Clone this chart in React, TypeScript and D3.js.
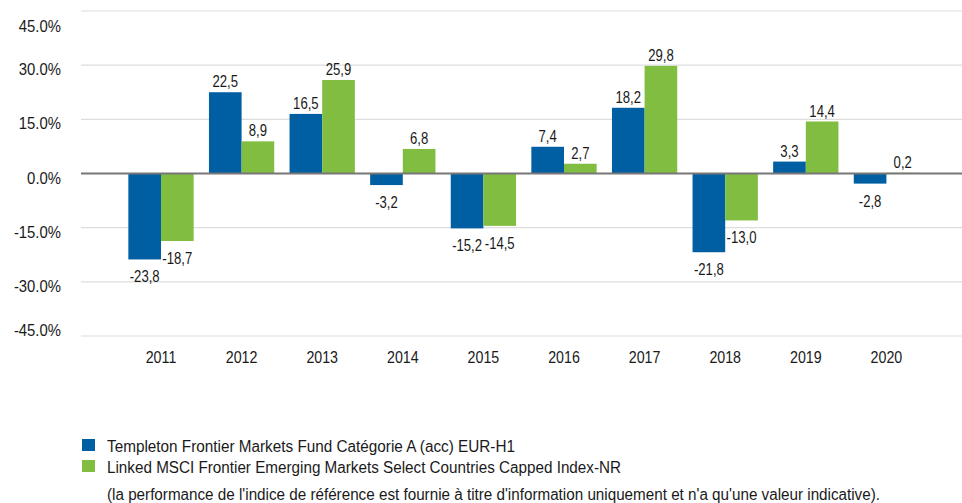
import React from "react";
import * as d3 from "d3";

const years = ["2011", "2012", "2013", "2014", "2015", "2016", "2017", "2018", "2019", "2020"];
const fundValues = [-23.8, 22.5, 16.5, -3.2, -15.2, 7.4, 18.2, -21.8, 3.3, -2.8];
const indexValues = [-18.7, 8.9, 25.9, 6.8, -14.5, 2.7, 29.8, -13.0, 14.4, 0.2];
const yTicks = [45, 30, 15, 0, -15, -30, -45];
const seriesNames = [
  "Templeton Frontier Markets Fund Catégorie A (acc) EUR-H1",
  "Linked MSCI Frontier Emerging Markets Select Countries Capped Index-NR",
];
const footnote =
  "(la performance de l'indice de référence est fournie à titre d'information uniquement et n'a qu'une valeur indicative).";

const W = 962;
const H = 503;
const BLUE = "#005ea2";
const GREEN = "#80bd41";
const FONT = "'Liberation Sans', Arial, sans-serif";
const TXT = "#1a1a1a";

function T(props: { x: number; y: number; sx: number; anchor?: string; size?: number; children: React.ReactNode }) {
  const { x, y, sx, anchor = "start", size = 16, children } = props;
  return (
    <g transform={`translate(${x},${y}) scale(${sx},1)`}>
      <text x={0} y={0} textAnchor={anchor as any} fontSize={size} fill={TXT}>
        {children}
      </text>
    </g>
  );
}

export default function App() {
  const y = d3.scaleLinear().domain([-45, 45]).range([336, 11]);
  const x0 = d3.scaleBand().domain(years).range([120.7, 926.7]).paddingInner(0.19).paddingOuter(0.095);
  const x1 = d3.scaleBand().domain(["fund", "index"]).range([0, x0.bandwidth()]);
  const series = [
    { key: "fund", values: fundValues, color: BLUE },
    { key: "index", values: indexValues, color: GREEN },
  ];
  const fmt = (v: number) => v.toFixed(1).replace(".", ",");
  const y0 = y(0);
  return (
    <svg width={W} height={H} style={{ position: "absolute", left: 0, top: 0, background: "#fff" }} fontFamily={FONT}>
      {yTicks.map((t) => (
        <g key={t}>
          {t !== 0 && <line x1={81} x2={962} y1={y(t)} y2={y(t)} stroke="#dddddd" strokeWidth={1.2} />}
          <T x={61} y={Math.min(Math.max(y(t) + 10, 32), 336)} sx={0.93} anchor="end">
            {t.toFixed(1) + "%"}
          </T>
        </g>
      ))}
      {series.map((s) =>
        s.values.map((v, i) => {
          const xx = (x0(years[i]) as number) + (x1(s.key) as number);
          const top = y(Math.max(v, 0));
          const bot = y(Math.min(v, 0));
          return (
            <g key={s.key + i}>
              <rect x={xx} y={top} width={x1.bandwidth()} height={Math.max(bot - top, 0.8)} fill={s.color} />
              <T x={xx + x1.bandwidth() / 2} y={v >= 0 ? top - 5 : bot + 23} sx={0.82} anchor="middle">
                {fmt(v)}
              </T>
            </g>
          );
        })
      )}
      <line x1={81} x2={962} y1={y0} y2={y0} stroke="#777" strokeWidth={2} />
      {years.map((yr) => (
        <T key={yr} x={(x0(yr) as number) + x0.bandwidth() / 2} y={363} sx={0.89} anchor="middle">
          {yr}
        </T>
      ))}
      {series.map((s, i) => (
        <g key={s.key}>
          <rect x={82} y={439 + i * 21} width={13} height={12} fill={s.color} />
          <text
            x={107}
            y={451.5 + i * 21}
            fontSize={16}
            fill={TXT}
            textLength={i === 0 ? 408 : 514}
            lengthAdjust="spacingAndGlyphs"
          >
            {seriesNames[i]}
          </text>
        </g>
      ))}
      <text x={107} y={499.5} fontSize={16} fill={TXT} textLength={773} lengthAdjust="spacingAndGlyphs">
        {footnote}
      </text>
    </svg>
  );
}
